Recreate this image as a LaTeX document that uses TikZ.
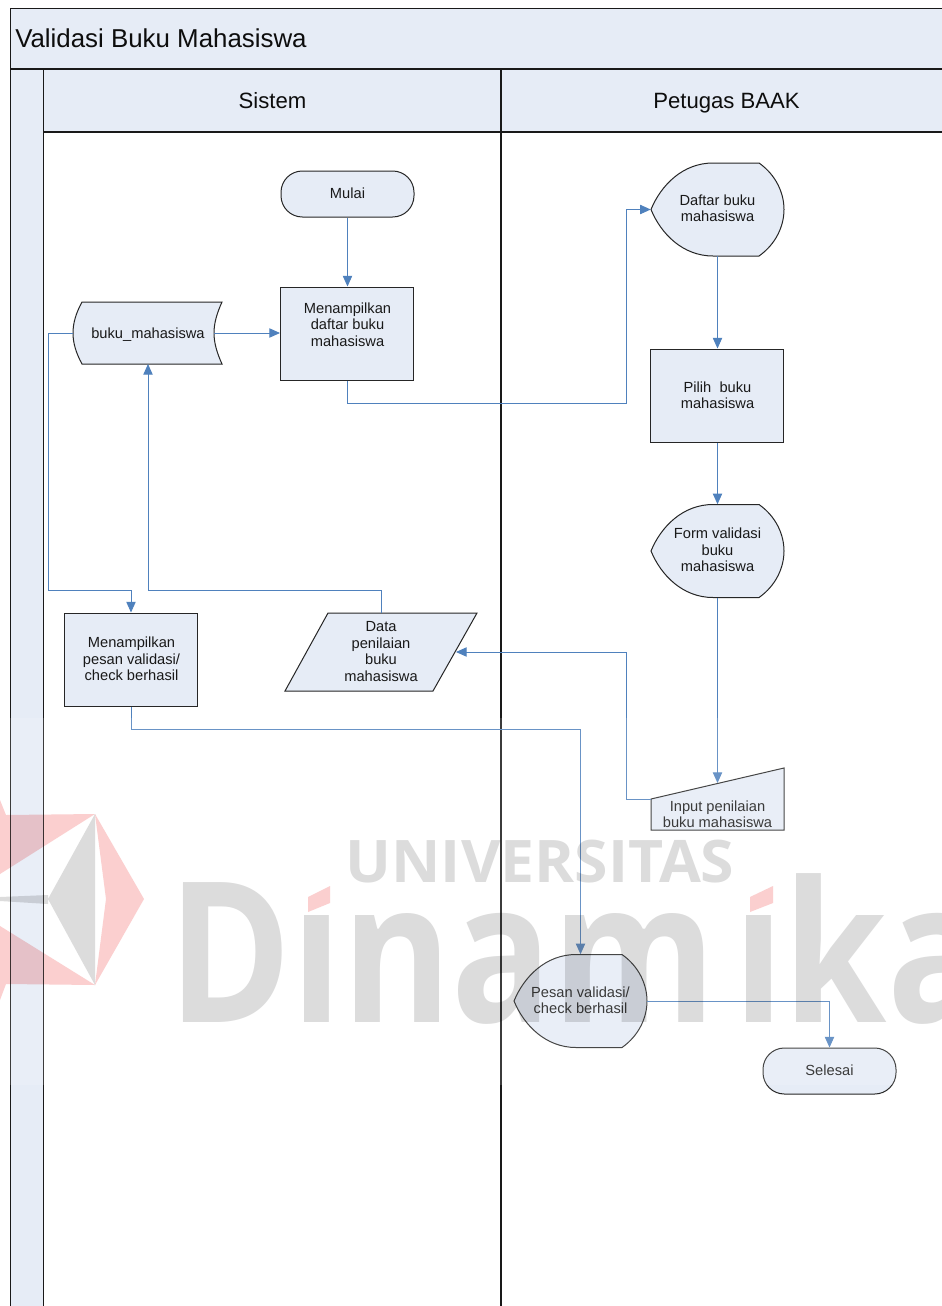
\documentclass[tikz,border=0pt]{standalone}
\usepackage{fontspec}
\setmainfont{Liberation Sans}
\newfontfamily\wmfont{Open Sans}
\usetikzlibrary{arrows.meta,calc}
\definecolor{lanefill}{HTML}{E6ECF6}
\definecolor{connblue}{HTML}{4F81BD}
\definecolor{wmgray}{HTML}{DCDCDC}
\definecolor{wmpink}{HTML}{FBCFCF}
\tikzset{
  lane/.style={draw=black!90,line width=0.8pt,fill=lanefill},
  shapefill/.style={draw=black!85,line width=0.75pt,fill=lanefill},
  conn/.style={draw=connblue,line width=0.7pt,-{Triangle[length=8pt,width=7pt]}},
  procbox/.style={shapefill,inner sep=0pt,minimum width=99.75pt,minimum height=69.75pt},
  termbox/.style={shapefill,inner sep=0pt,minimum width=99.75pt,minimum height=34.5pt,rounded corners=16pt},
  ghost/.style={inner sep=0pt,minimum width=99.75pt,minimum height=69.75pt},
  lbl/.style={inner sep=0pt,align=center,font=\fontsize{11}{12.3}\selectfont,text=black!90},
  dispshape/.pic={\path[shapefill] (0,46.5) .. controls (10,22) and (32,0) .. (62,0) -- (108,0)
      .. controls (125,12) and (133,30) .. (133,46.5) .. controls (133,63) and (125,81) .. (108,93)
      -- (62,93) .. controls (32,93) and (10,71) .. (0,46.5) -- cycle;}
}
\begin{document}
\begin{tikzpicture}[x=0.75pt,y=-0.75pt]
\useasboundingbox (0,0) rectangle (942,1306);
\clip (0,0) rectangle (942,1306);
\fill[white] (0,0) rectangle (942,1306);
% swimlane
\path[lane] (10.5,69) rectangle (43.5,1320);
\path[lane] (43.5,69) rectangle (501,132);
\path[lane] (501,69) rectangle (1000,132);
\path[lane] (10.5,8.5) rectangle (1000,69);
\draw[line width=0.8pt,black!90] (43.5,132) -- (43.5,1320) (501,132) -- (501,1320);
\node[anchor=base west,inner sep=0pt,font=\fontsize{19.4}{22}\selectfont,text=black!95] (title) at (15,47.5) {Validasi Buku Mahasiswa};
\node[anchor=base,inner sep=0pt,font=\fontsize{16.6}{19}\selectfont,text=black!95] (sistem) at (272.5,108.5) {Sistem};
\node[anchor=base,inner sep=0pt,font=\fontsize{16.6}{19}\selectfont,text=black!95] (petugas) at (726.5,108.5) {Petugas BAAK};
% shapes
\node[termbox] (mulai) at (347.5,194) {};
\node[procbox] (tampil) at (347,333.5) {};
\node[procbox] (pilih) at (717,395.5) {};
\node[procbox] (pesan) at (131,659.5) {};
\node[termbox] (selesai) at (829.5,1071) {};
\path[shapefill] (82,302) .. controls (76,313) and (73,323) .. (73,333) .. controls (73,343) and (76,353) .. (82,364)
   -- (222,364) .. controls (217,353) and (214,343) .. (214,333) .. controls (214,323) and (217,313) .. (222,302) -- cycle;
\path[shapefill] (328,613) -- (477,613) -- (433,691) -- (285,691) -- cycle;
\path[shapefill] (651,799) -- (784,768) -- (784,830) -- (651,830) -- cycle;
\pic at (651,163) {dispshape};
\pic at (651,504.5) {dispshape};
\pic at (514,954.5) {dispshape};
\node[ghost] (buku) at (148,333) {};
\node[ghost] (data) at (381,652) {};
\node[ghost,minimum height=46.5pt] (input) at (717.5,799) {};
\node[ghost] (daftar) at (717.5,209.5) {};
\node[ghost] (form) at (717.5,551) {};
\node[ghost] (notif) at (580.5,1001) {};
\coordinate (bukuL) at (73,333);
\coordinate (bukuR) at (214,333);
\coordinate (bukuB) at (148,364);
\coordinate (dataT) at (381,613);
\coordinate (dataR) at (456,652);
\coordinate (inputT) at (717.5,783);
\coordinate (inputL) at (651,799);
\coordinate (w1) at (626,403);
\coordinate (w2) at (626,652);
\coordinate (w3) at (148,590);
\coordinate (w4) at (48,590);
\coordinate (w5) at (131,729);
% connectors
\draw[conn] (mulai.south) -- (tampil.north -| mulai.south);
\draw[conn] (bukuR) -- (tampil.west |- bukuR);
\draw[conn] (tampil.south) |- (w1) |- (daftar.west);
\draw[conn] (daftar.south) -- (pilih.north -| daftar.south);
\draw[conn] (pilih.south -| form.north) -- (form.north);
\draw[conn] (form.south) -- (inputT);
\draw[conn] (inputL) -| (w2) -- (dataR);
\draw[conn] (dataT) |- (w3) -- (bukuB);
\draw[conn] (bukuL) -| (w4) -| (pesan.north);
\draw[conn] (pesan.south) |- (w5) -| (notif.north);
\draw[conn] (notif.east) -| (selesai.north);
% labels
\node[lbl] (tMulai) at (347.5,193) {Mulai};
\node[lbl] (tTampil) at (347.5,324.5) {Menampilkan\\daftar buku\\mahasiswa};
\node[lbl] (tBuku) at (148,334.5) {buku\_mahasiswa};
\node[lbl] (tDaftar) at (717.5,208.5) {Daftar buku\\mahasiswa};
\node[lbl] (tPilih) at (717.5,395) {Pilih\ \ buku\\mahasiswa};
\node[lbl] (tForm) at (717.5,550) {Form validasi\\buku\\mahasiswa};
\node[lbl] (tPesan) at (131.5,659) {Menampilkan\\pesan validasi/\\check berhasil};
\node[lbl,font=\fontsize{11}{12.6}\selectfont] (tData) at (381,651.5) {Data\\penilaian\\buku\\mahasiswa};
\node[lbl] (tInput) at (717.5,814) {Input penilaian\\buku mahasiswa};
\node[lbl] (tNotif) at (580.5,1000) {Pesan validasi/\\check berhasil};
\node[lbl] (tSelesai) at (829.5,1070) {Selesai};
% watermark
\fill[white,opacity=0.15] (0,718) rectangle (942,1085);
\begin{scope}[blend mode=multiply]
  \fill[wmpink] (95,814) -- (144,899) -- (95,985) -- (106,899) -- cycle;
  \fill[wmpink] (0,800) -- (6,815) -- (95,814) -- (0,874) -- cycle;
  \fill[wmpink] (0,926) -- (95,985) -- (6,984) -- (0,1000) -- cycle;
  \fill[wmgray] (95,814) -- (48,899) -- (95,985) -- cycle;
  \fill[wmgray] (0,897) -- (48,895) -- (48,904) -- (0,901) -- cycle;
  \node[anchor=base west,inner sep=0pt,text=wmgray,font=\wmfont\bfseries\fontsize{147}{147}\selectfont,xscale=0.85,transform shape] (wmD) at (168,1022) {Dinam\kern15pt ika};
  \node[anchor=base,inner sep=0pt,text=wmgray,font=\wmfont\bfseries\fontsize{44}{44}\selectfont,xscale=1.035,transform shape] (wmU) at (540,882) {UNIVERSITAS};
\end{scope}
\fill[white] (300,862) rectangle (340,913);
\fill[white] (742,862) rectangle (782,913);
\fill[wmpink] (308,897) -- (330,886) -- (330,903) -- (308,912) -- cycle;
\fill[wmpink] (750,897) -- (773,886) -- (773,903) -- (750,912) -- cycle;
\end{tikzpicture}
\end{document}
